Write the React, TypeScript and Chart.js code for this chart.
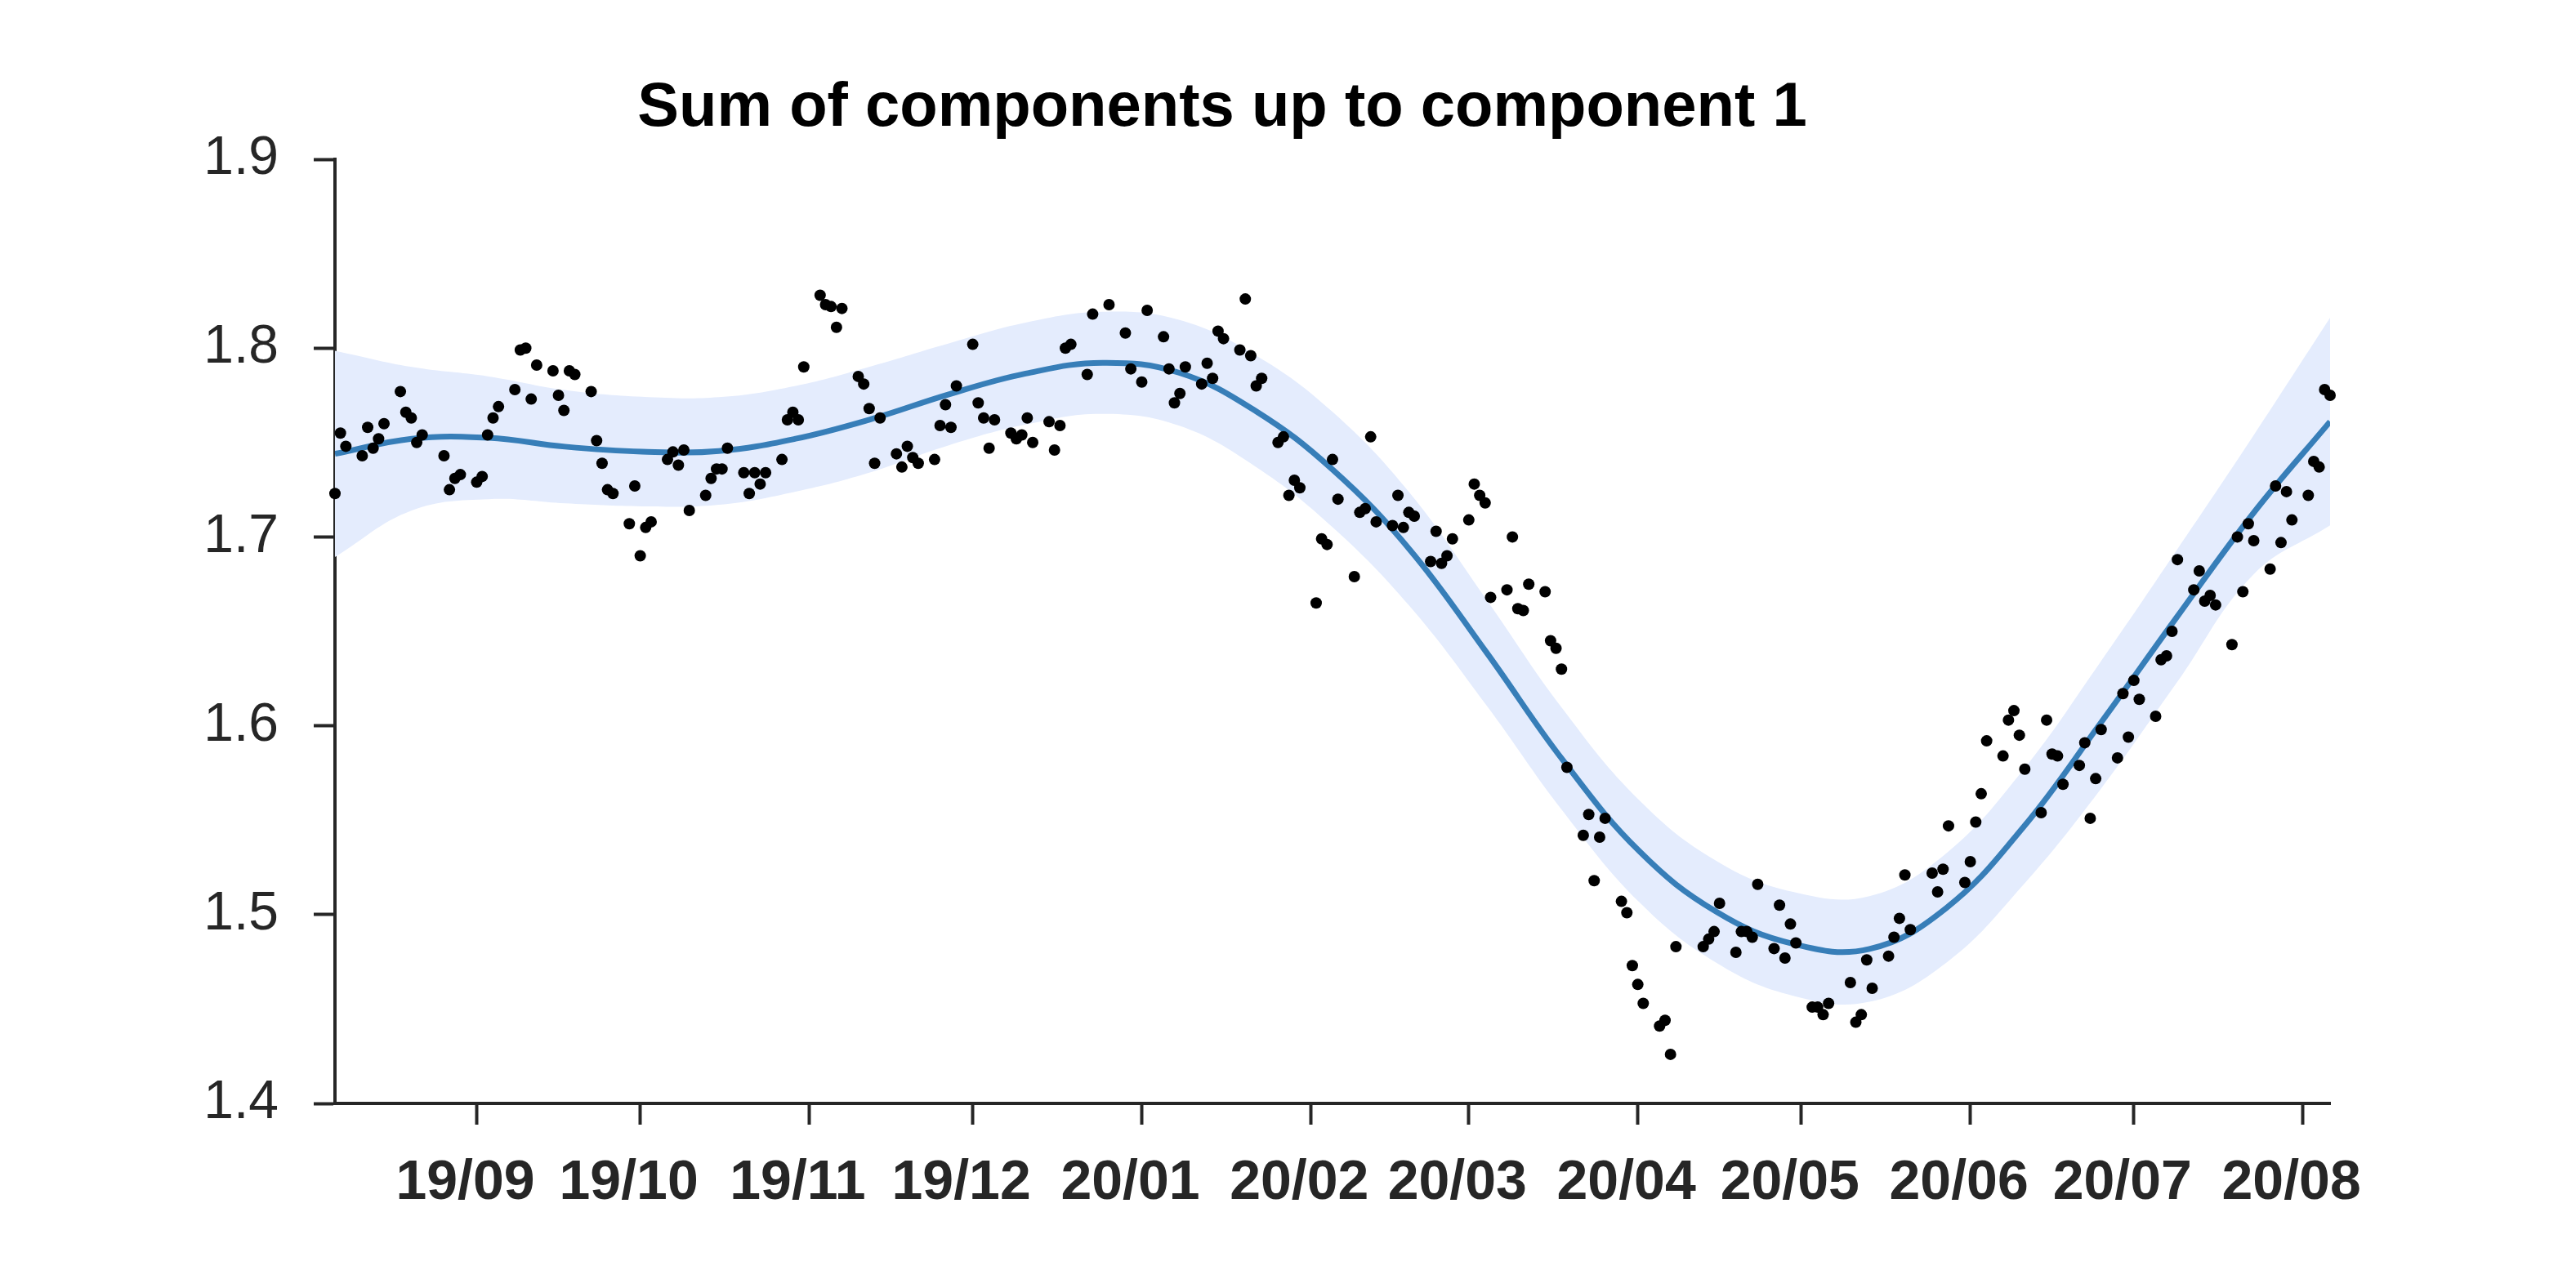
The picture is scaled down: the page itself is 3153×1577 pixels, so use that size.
import React, { useEffect, useRef } from 'react';
import { Chart, registerables } from 'chart.js';

Chart.register(...registerables);

const W = 3153;
const H = 1577;

const titleText = 'Sum of components up to component 1';

// x values are days counted from 2019-09-01
const tickDays = [0, 30, 61, 91, 122, 153, 182, 213, 243, 274, 304, 335];
const tickLabels = ['19/09', '19/10', '19/11', '19/12', '20/01', '20/02', '20/03', '20/04', '20/05', '20/06', '20/07', '20/08'];
const yTicks = [1.4, 1.5, 1.6, 1.7, 1.8, 1.9];

const pointDays = [
  -26, -25, -24,
  -21, -20, -19, -18, -17,
  -14, -13, -12, -11, -10,
  -6, -5, -4, -3,
  0, 1, 2, 3, 4,
  7, 8, 9, 10, 11,
  14, 15, 16, 17, 18,
  21, 22, 23, 24, 25,
  28, 29, 30, 31, 32,
  35, 36, 37, 38, 39,
  42, 43, 44, 45, 46,
  49, 50, 51, 52, 53,
  56, 57, 58, 59, 60,
  63, 64, 65, 66, 67,
  70, 71, 72, 73, 74,
  77, 78, 79, 80, 81,
  84, 85, 86, 87, 88,
  91, 92, 93, 94, 95,
  98, 99, 100, 101, 102,
  105, 106, 107, 108, 109,
  112, 113, 116,
  119, 120, 122, 123,
  126, 127, 128, 129, 130,
  133, 134, 135, 136, 137,
  140, 141, 142, 143, 144,
  147, 148, 149, 150, 151,
  154, 155, 156, 157, 158,
  161, 162, 163, 164, 165,
  168, 169, 170, 171, 172,
  175, 176, 177, 178, 179,
  182, 183, 184, 185, 186,
  189, 190, 191, 192, 193,
  196, 197, 198, 199, 200,
  203, 204, 205, 206, 207,
  210, 211, 212, 213, 214,
  217, 218, 219, 220,
  225, 226, 227, 228,
  231, 232, 233, 234, 235,
  238, 239, 240, 241, 242,
  245, 246, 247, 248,
  252, 253, 254, 255, 256,
  259, 260, 261, 262, 263,
  267, 268, 269, 270,
  273, 274, 275, 276, 277,
  280, 281, 282, 283, 284,
  287, 288, 289, 290, 291,
  294, 295, 296, 297, 298,
  301, 302, 303, 304, 305,
  308, 309, 310, 311, 312,
  315, 316, 317, 318, 319,
  322, 323, 324, 325, 326,
  329, 330, 331, 332, 333,
  336, 337, 338, 339, 340,
];

const pointValues = [
  1.723, 1.755, 1.748,
  1.743, 1.758, 1.747, 1.752, 1.760,
  1.777, 1.766, 1.763, 1.750, 1.754,
  1.743, 1.725, 1.731, 1.733,
  1.729, 1.732, 1.754, 1.763, 1.769,
  1.778, 1.799, 1.800, 1.773, 1.791,
  1.788, 1.775, 1.767, 1.788, 1.786,
  1.777, 1.751, 1.739, 1.725, 1.723,
  1.707, 1.727, 1.690, 1.705, 1.708,
  1.741, 1.745, 1.738, 1.746, 1.714,
  1.722, 1.731, 1.736, 1.736, 1.747,
  1.734, 1.723, 1.734, 1.728, 1.734,
  1.741, 1.762, 1.766, 1.762, 1.790,
  1.828, 1.823, 1.822, 1.811, 1.821,
  1.785, 1.781, 1.768, 1.739, 1.763,
  1.744, 1.737, 1.748, 1.742, 1.739,
  1.741, 1.759, 1.770, 1.758, 1.780,
  1.802, 1.771, 1.763, 1.747, 1.762,
  1.755, 1.752, 1.754, 1.763, 1.750,
  1.761, 1.746, 1.759, 1.800, 1.802,
  1.786, 1.818, 1.823,
  1.808, 1.789, 1.782, 1.820,
  1.806, 1.789, 1.771, 1.776, 1.790,
  1.781, 1.792, 1.784, 1.809, 1.805,
  1.799, 1.826, 1.796, 1.780, 1.784,
  1.750, 1.753, 1.722, 1.730, 1.726,
  1.665, 1.699, 1.696, 1.741, 1.720,
  1.679, 1.713, 1.715, 1.753, 1.708,
  1.706, 1.722, 1.705, 1.713, 1.711,
  1.687, 1.703, 1.686, 1.690, 1.699,
  1.709, 1.728, 1.722, 1.718, 1.668,
  1.672, 1.700, 1.662, 1.661, 1.675,
  1.671, 1.645, 1.641, 1.630, 1.578,
  1.542, 1.553, 1.518, 1.541, 1.551,
  1.507, 1.501, 1.473, 1.463, 1.453,
  1.441, 1.444, 1.426, 1.483,
  1.483, 1.487, 1.491, 1.506,
  1.480, 1.491, 1.491, 1.488, 1.516,
  1.482, 1.505, 1.477, 1.495, 1.485,
  1.451, 1.451, 1.447, 1.453,
  1.464, 1.443, 1.447, 1.476, 1.461,
  1.478, 1.488, 1.498, 1.521, 1.492,
  1.522, 1.512, 1.524, 1.547,
  1.517, 1.528, 1.549, 1.564, 1.592,
  1.584, 1.603, 1.608, 1.595, 1.577,
  1.554, 1.603, 1.585, 1.584, 1.569,
  1.579, 1.591, 1.551, 1.572, 1.598,
  1.583, 1.617, 1.594, 1.624, 1.614,
  1.605, 1.635, 1.637, 1.650, 1.688,
  1.672, 1.682, 1.666, 1.669, 1.664,
  1.643, 1.700, 1.671, 1.707, 1.698,
  1.683, 1.727, 1.697, 1.724, 1.709,
  1.722, 1.740, 1.737, 1.778, 1.775,
];

// fitted curve and its band, read at evenly spaced days
const curveDays = [-26, -11.9, 2.2, 16.2, 30.3, 44.4, 58.5, 72.5, 86.6, 100.7, 114.8, 128.8, 142.9, 157, 171.1, 185.2, 199.2, 213.3, 227.4, 241.5, 255.5, 269.6, 283.7, 297.8, 311.8, 325.9, 340];
const fitValues = [1.744, 1.752, 1.7525, 1.7478, 1.7452, 1.7455, 1.752, 1.7625, 1.7755, 1.7865, 1.7922, 1.787, 1.7667, 1.7357, 1.6935, 1.639, 1.582, 1.5335, 1.5015, 1.4845, 1.4818, 1.5035, 1.5462, 1.601, 1.6572, 1.7125, 1.7611];
const bandUpper = [1.7986, 1.790, 1.785, 1.7778, 1.7742, 1.774, 1.780, 1.7905, 1.8025, 1.8135, 1.8192, 1.815, 1.7962, 1.7662, 1.7235, 1.667, 1.609, 1.5605, 1.5285, 1.512, 1.5098, 1.5325, 1.5767, 1.6335, 1.6927, 1.7535, 1.8161];
const bandLower = [1.6894, 1.714, 1.720, 1.7178, 1.7162, 1.717, 1.724, 1.7345, 1.7485, 1.7595, 1.7652, 1.759, 1.7372, 1.7052, 1.6635, 1.611, 1.555, 1.5065, 1.4745, 1.457, 1.4538, 1.4745, 1.5157, 1.5660, 1.6225, 1.680, 1.7061];

const FONT = '"Liberation Sans", Arial, Helvetica, sans-serif';
const AXIS_COLOR = '#262626';

export default function App() {
  const ref = useRef<HTMLCanvasElement>(null);

  useEffect(() => {
    document.body.style.margin = '0';
    const canvas = ref.current;
    if (!canvas) return;
    const ctx = canvas.getContext('2d');
    if (!ctx) return;

    const titlePlugin = {
      id: 'customTitle',
      afterDraw(chart: any) {
        const c = chart.ctx;
        c.save();
        c.font = `bold 76px ${FONT}`;
        c.fillStyle = '#000000';
        c.textAlign = 'center';
        c.textBaseline = 'alphabetic';
        c.fillText(titleText, 1496, 154);
        c.restore();
      },
    };

    const chart = new Chart(ctx, {
      type: 'line',
      data: {
        datasets: [
          {
            label: 'points',
            data: pointDays.map((d, i) => ({ x: d, y: pointValues[i] })),
            showLine: false,
            pointRadius: 7,
            pointHoverRadius: 7,
            pointBackgroundColor: '#000000',
            pointBorderWidth: 0,
            borderColor: 'rgba(0,0,0,0)',
            clip: false,
            order: 0,
          } as any,
          {
            label: 'fit',
            data: curveDays.map((d, i) => ({ x: d, y: fitValues[i] })),
            borderColor: '#377eb8',
            borderWidth: 7,
            pointRadius: 0,
            fill: false,
            tension: 0.4,
            order: 1,
          },
          {
            label: 'upper',
            data: curveDays.map((d, i) => ({ x: d, y: bandUpper[i] })),
            borderColor: 'rgba(0,0,0,0)',
            borderWidth: 0,
            pointRadius: 0,
            backgroundColor: '#e4ecfd',
            fill: '+1',
            tension: 0.4,
            order: 2,
          },
          {
            label: 'lower',
            data: curveDays.map((d, i) => ({ x: d, y: bandLower[i] })),
            borderColor: 'rgba(0,0,0,0)',
            borderWidth: 0,
            pointRadius: 0,
            fill: false,
            tension: 0.4,
            order: 3,
          },
        ],
      },
      options: {
        responsive: false,
        animation: false,
        devicePixelRatio: 1,
        layout: { padding: { top: 195, left: 0, right: W - 2852, bottom: 0 } },
        plugins: {
          legend: { display: false },
          tooltip: { enabled: false },
          title: { display: false },
        },
        scales: {
          x: {
            type: 'linear',
            min: -26,
            max: 340,
            afterBuildTicks: (s: any) => {
              s.ticks = tickDays.map((v) => ({ value: v }));
            },
            afterFit: (s: any) => {
              s.height = H - 1351;
            },
            ticks: {
              autoSkip: false,
              maxRotation: 0,
              minRotation: 0,
              padding: 31,
              labelOffset: -14,
              color: AXIS_COLOR,
              font: { family: FONT, size: 68, weight: 'bold' },
              callback: (_v: any, i: number) => tickLabels[i],
            },
            grid: {
              display: true,
              drawOnChartArea: false,
              drawTicks: true,
              tickLength: 26,
              tickWidth: 4,
              tickColor: AXIS_COLOR,
            },
            border: { display: true, color: AXIS_COLOR, width: 4 },
          },
          y: {
            type: 'linear',
            min: 1.4,
            max: 1.9,
            afterBuildTicks: (s: any) => {
              s.ticks = yTicks.map((v) => ({ value: v }));
            },
            afterFit: (s: any) => {
              s.width = 410;
            },
            ticks: {
              padding: 43,
              color: AXIS_COLOR,
              font: { family: FONT, size: 66 },
              callback: (v: any) => Number(v).toFixed(1),
            },
            grid: {
              display: true,
              drawOnChartArea: false,
              drawTicks: true,
              tickLength: 26,
              tickWidth: 4,
              tickColor: AXIS_COLOR,
            },
            border: { display: true, color: AXIS_COLOR, width: 4 },
          },
        },
      } as any,
      plugins: [titlePlugin],
    });

    return () => chart.destroy();
  }, []);

  return (
    <canvas
      ref={ref}
      width={W}
      height={H}
      style={{ position: 'absolute', left: 0, top: 0, width: W, height: H, background: '#ffffff' }}
    />
  );
}
